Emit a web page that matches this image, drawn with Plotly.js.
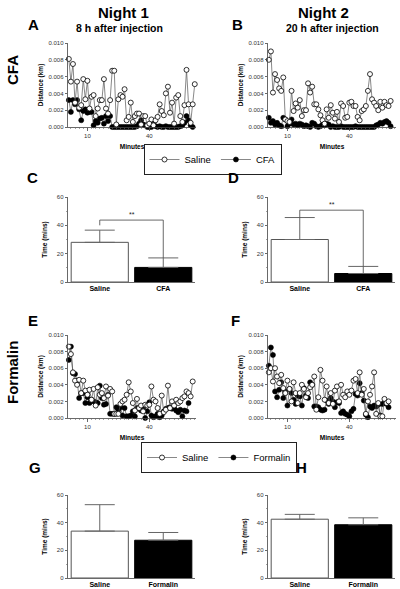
<!DOCTYPE html>
<html><head><meta charset="utf-8">
<script src="https://cdn.plot.ly/plotly-3.0.1.min.js"></script>
<style>html,body{margin:0;padding:0;background:#fff}#chart{width:400px;height:589px}</style>
</head><body><div id="chart"></div>
<script>
// ---- DATA ----
const minutes = [1,2,3,4,5,6,7,8,9,10,11,12,13,14,15,16,17,18,19,20,21,22,23,24,25,26,27,28,29,30,31,32,33,34,35,36,37,38,39,40,41,42,43,44,45,46,47,48,49,50,51,52,53,54,55,56,57,58,59,60,61,62];

const cfaNight1Saline = [0.0081,0.0054,0.0075,0.0029,0.0054,0.0023,0.0026,0.0057,0.0033,0.0055,0.0022,0.0036,0.0038,0.0013,0.0022,0.0032,0.0032,0.0057,0.0022,0.0016,0.0032,0.0067,0.0067,0.0003,0.0033,0.0038,0.0036,0.0045,0.0008,0.0012,0.0029,0.0006,0.0013,0.0016,0.0016,0.0003,0.0013,0.0013,0.0002,0.0004,0.0009,0.0002,0.0008,0.0012,0.0027,0.0019,0.0014,0.0040,0.0048,0.0017,0.0029,0.0004,0.0035,0.0038,0.0013,0.0006,0.0026,0.0068,0.0027,0.0005,0.0027,0.0051];
const cfaNight1CFA = [0.0032,0.0018,0.0032,0.0027,0.0032,0.0021,0.0008,0.0019,0.0021,0.0017,0.0018,0.0018,0.0002,0.0007,0.0005,0.0010,0.0011,0.0004,0.0013,0.0007,0.0013,0,0,0,0,0,0,0,0,0,0,0,0,0.0001,0.0004,0.0008,0.0003,0.0002,0,0,0,0.0004,0.0001,0,0.0001,0,0,0.0001,0,0,0,0,0,0,0.0001,0.0002,0.0005,0.0013,0.0008,0.0002,0];
const cfaNight2Saline = [0.0080,0.0090,0.0041,0.0063,0.0056,0.0046,0.0043,0.0059,0.0009,0.0007,0.0006,0.0043,0.0019,0.0028,0.0023,0.0032,0.0013,0.0020,0.0020,0.0052,0.0041,0.0048,0.0027,0.0027,0.0021,0.0014,0.0008,0.0004,0.0021,0.0011,0.0026,0.0017,0.0010,0.0018,0.0006,0.0028,0.0025,0.0011,0.0012,0.0029,0.0030,0.0025,0.0025,0.0012,0.0008,0.0019,0.0021,0.0025,0.0043,0.0063,0.0033,0.0029,0.0025,0.0020,0.0030,0.0023,0.0030,0.0026,0.0025,0.0031];
const cfaNight2CFA = [0.0011,0.0005,0.0007,0.0003,0.0005,0.0002,0.0001,0.0011,0.0009,0.0001,0.0004,0.0009,0.0003,0.0004,0.0002,0.0004,0.0003,0.0001,0.0002,0.0001,0,0.0005,0.0004,0.0001,0,0.0001,0.0003,0.0002,0.0004,0.0003,0,0.0001,0,0,0,0.0001,0,0,0,0,0,0,0.0001,0,0,0,0,0,0,0,0,0,0.0002,0.0003,0.0005,0.0004,0.0006,0.0007,0.0005,0.0001];

const formNight1Saline = [0.0086,0.0077,0.0055,0.0045,0.0040,0.0046,0.0030,0.0045,0.0033,0.0028,0.0034,0.0022,0.0035,0.0015,0.0037,0.0028,0.0030,0.0024,0.0038,0.0027,0.0035,0.0032,0.0005,0.0005,0.0005,0.0017,0.0020,0.0022,0.0028,0.0043,0.0032,0.0018,0.0009,0.0023,0.0012,0.0015,0.0008,0.0016,0.0015,0.0016,0.0038,0.0022,0.0020,0.0012,0.0005,0.0027,0.0007,0.0010,0.0039,0.0012,0.0020,0.0015,0.0022,0.0018,0.0020,0.0024,0.0026,0.0032,0.0030,0.0026,0.0044];
const formNight1Formalin = [0.0070,0.0086,0.0054,0.0053,0.0045,0.0024,0.0030,0.0030,0.0018,0.0025,0.0018,0.0022,0.0020,0.0019,0.0018,0.0039,0.0024,0.0016,0.0017,0.0028,0.0005,0.0005,0.0005,0.0013,0.0010,0.0013,0.0003,0.0012,0.0002,0.0002,0.0003,0.0008,0.0002,0.0012,0.0011,0.0009,0.0012,0.0000,0.0008,0.0019,0.0003,0.0001,0.0002,0.0005,0.0001,0.0003,0.0008,0.0011,0.0012,0.0013,0.0011,0.0012,0.0009,0.0007,0.0010,0.0002,0.0009,0.0008,0.0018];
const formNight2Saline = [0.0055,0.0060,0.0044,0.0060,0.0050,0.0042,0.0052,0.0036,0.0030,0.0045,0.0035,0.0020,0.0043,0.0030,0.0018,0.0030,0.0040,0.0035,0.0025,0.0030,0.0037,0.0040,0.0050,0.0010,0.0025,0.0058,0.0045,0.0022,0.0038,0.0018,0.0030,0.0017,0.0033,0.0038,0.0020,0.0040,0.0028,0.0025,0.0032,0.0028,0.0033,0.0045,0.0047,0.0030,0.0055,0.0028,0.0035,0.0005,0.0020,0.0028,0.0038,0.0055,0.0005,0.0018,0.0002,0.0002,0.0023,0.0018,0.0020];
const formNight2Formalin = [0.0063,0.0085,0.0076,0.0032,0.0025,0.0034,0.0043,0.0024,0.0032,0.0015,0.0035,0.0030,0.0022,0.0017,0.0027,0.0026,0.0015,0.0036,0.0027,0.0024,0.0043,0.0040,0.0014,0.0014,0.0013,0.0010,0.0009,0.0010,0.0021,0.0017,0.0024,0.0020,0.0013,0.0019,0.0018,0.0006,0.0008,0.0005,0.0004,0.0002,0.0008,0.0011,0.0029,0.0027,0.0042,0.0030,0.0021,0.0004,0.0001,0.0014,0.0012,0.0015,0.0014,0.0016,0.0003,0.0017,0.0018,0.0017,0.0013];

const barCatsCFA = ['Saline','CFA'];
const barCatsForm = ['Saline','Formalin'];
const cfaN1Mean = [28, 10.3];   const cfaN1Err = [8.6, 6.7];
const cfaN2Mean = [30, 6];      const cfaN2Err = [15.5, 5];
const formN1Mean = [33.9, 27.3]; const formN1Err = [19.1, 5.6];
const formN2Mean = [42.5, 38.5]; const formN2Err = [3.5, 5];

// ---- HELPERS ----
const W = 400, H = 589;
const dx = (a,b) => [a/W, b/W];
const dy = (t,b) => [1-b/H, 1-t/H];
const FONT = 'Liberation Sans, Arial, sans-serif';
const tickFont = {family: FONT, size: 6, color: '#333'};
const titleFont = {family: FONT, size: 6.5, color: 'black', weight: 700};

function scatterPair(sal, trt, trtName, xa, ya, legendName, showLeg) {
  const common = {mode: 'lines+markers', xaxis: xa, yaxis: ya, cliponaxis: false, line: {color: '#555', width: 0.7}, legend: legendName};
  return [
    Object.assign({}, common, {x: minutes.slice(0, trt.length), y: trt, name: trtName, showlegend: showLeg,
      marker: {symbol: 'circle', size: 5, color: 'black', line: {color: 'black', width: 0.6}}}),
    Object.assign({}, common, {x: minutes.slice(0, sal.length), y: sal, name: 'Saline', showlegend: showLeg,
      marker: {symbol: 'circle', size: 5, color: 'white', line: {color: 'black', width: 0.8}}})
  ];
}
function barTrace(cats, means, errs, xa, ya) {
  return {type: 'bar', x: cats, y: means, xaxis: xa, yaxis: ya, showlegend: false, width: 0.9,
    marker: {color: ['white', 'black'], line: {color: ['#555', 'black'], width: 1}},
    error_y: {type: 'data', symmetric: false, array: errs, arrayminus: [0, 0], color: '#666', thickness: 1, width: 15}};
}

const traces = [].concat(
  scatterPair(cfaNight1Saline, cfaNight1CFA, 'CFA', 'x', 'y', 'legend', false),
  scatterPair(cfaNight2Saline, cfaNight2CFA, 'CFA', 'x2', 'y2', 'legend', true),
  [barTrace(barCatsCFA, cfaN1Mean, cfaN1Err, 'x3', 'y3'), barTrace(barCatsCFA, cfaN2Mean, cfaN2Err, 'x4', 'y4')],
  scatterPair(formNight1Saline, formNight1Formalin, 'Formalin', 'x5', 'y5', 'legend2', false),
  scatterPair(formNight2Saline, formNight2Formalin, 'Formalin', 'x6', 'y6', 'legend2', true),
  [barTrace(barCatsForm, formN1Mean, formN1Err, 'x7', 'y7'), barTrace(barCatsForm, formN2Mean, formN2Err, 'x8', 'y8')]
);

function sx(dom, anchor, showTitle) {
  return {domain: dom, anchor: anchor, range: [0.6, 62.6], tickvals: [10, 40], ticks: 'outside', ticklen: 3, tickwidth: 0.8,
    tickcolor: '#444', showline: true, linecolor: '#444', linewidth: 0.8, showgrid: false, zeroline: false, tickfont: tickFont,
    minor: {ticks: 'outside', ticklen: 1.5, dtick: 2, tickcolor: '#666', tickwidth: 0.6},
    title: showTitle ? {text: 'Minutes', font: titleFont, standoff: 6} : {text: ''}};
}
function sy(dom, anchor) {
  return {domain: dom, anchor: anchor, range: [0, 0.010], dtick: 0.002, tickformat: '.3f', ticks: 'outside', ticklen: 2.5, tickwidth: 0.8,
    tickcolor: '#444', showline: true, linecolor: '#444', linewidth: 0.8, showgrid: false, zeroline: false, tickfont: tickFont,
    title: {text: 'Distance (km)', font: titleFont, standoff: 4}};
}
function bx(dom, anchor) {
  return {domain: dom, anchor: anchor, type: 'category', range: [-0.5, 1.5], showline: true, linecolor: '#444', linewidth: 0.8,
    ticks: '', showgrid: false, zeroline: false, tickfont: {family: FONT, size: 7, color: 'black', weight: 700}};
}
function by(dom, anchor) {
  return {domain: dom, anchor: anchor, range: [0, 60], dtick: 20, ticks: 'outside', ticklen: 2.5, tickwidth: 0.8, tickcolor: '#444',
    showline: true, linecolor: '#444', linewidth: 0.8, showgrid: false, zeroline: false, tickfont: tickFont,
    minor: {ticks: 'outside', ticklen: 1.5, dtick: 10, tickcolor: '#666', tickwidth: 0.6},
    title: {text: 'Time (mins)', font: titleFont, standoff: 8}};
}

function bracket(xa, ya, top, leftBottom, rightBottom) {
  const base = {type: 'line', xref: xa, yref: ya, line: {color: '#444', width: 0.8}};
  return [
    Object.assign({}, base, {x0: 0, x1: 1, y0: top, y1: top}),
    Object.assign({}, base, {x0: 0, x1: 0, y0: top, y1: leftBottom}),
    Object.assign({}, base, {x0: 1, x1: 1, y0: top, y1: rightBottom})
  ];
}

function txt(text, x, y, size, extra) {
  return Object.assign({xref: 'paper', yref: 'paper', x: x/W, y: 1-y/H, xanchor: 'center', yanchor: 'middle', showarrow: false,
    text: text, font: {family: FONT, size: size, color: 'black', weight: 700}}, extra || {});
}

const annotations = [
  txt('Night 1', 123, 13, 15), txt('8 h after injection', 119, 28, 10.5),
  txt('Night 2', 323, 13, 15), txt('20 h after injection', 332, 28, 10.5),
  txt('A', 33, 25, 15), txt('B', 237, 25, 15), txt('C', 32, 178, 15), txt('D', 233, 178, 15),
  txt('E', 33, 320, 15), txt('F', 235, 320, 15), txt('G', 35, 468, 15), txt('H', 301, 468, 15),
  txt('CFA', 12, 70, 15, {textangle: -90}), txt('Formalin', 12, 373, 15, {textangle: -90}),
  {xref: 'x3', yref: 'y3', x: 0.5, y: 43.7, yanchor: 'bottom', showarrow: false, text: '**', font: {family: FONT, size: 7, color: '#222'}},
  {xref: 'x4', yref: 'y4', x: 0.5, y: 50.7, yanchor: 'bottom', showarrow: false, text: '**', font: {family: FONT, size: 7, color: '#222'}}
];

const legendStyle = (x, y) => ({orientation: 'h', x: x, y: y, xanchor: 'center', yanchor: 'top', bgcolor: 'white',
  bordercolor: '#222', borderwidth: 1, font: {family: FONT, size: 9.5, color: 'black'}, itemwidth: 30, traceorder: 'reversed', tracegroupgap: 0});

const layout = {
  width: W, height: H, margin: {l: 0, r: 0, t: 0, b: 0}, paper_bgcolor: 'white', plot_bgcolor: 'white',
  showlegend: true, bargap: 0.1,
  legend: legendStyle(212.5/W, 1-144/H),
  legend2: legendStyle(219/W, 1-442/H),
  xaxis: sx(dx(68, 196), 'y', true),   yaxis: sy(dy(43, 127), 'x'),
  xaxis2: sx(dx(268, 396), 'y2', true), yaxis2: sy(dy(43, 127), 'x2'),
  xaxis3: bx(dx(68, 195), 'y3'),        yaxis3: by(dy(197, 282), 'x3'),
  xaxis4: bx(dx(268, 395), 'y4'),       yaxis4: by(dy(197, 282), 'x4'),
  xaxis5: sx(dx(68, 196), 'y5', true),  yaxis5: sy(dy(335, 418), 'x5'),
  xaxis6: sx(dx(268, 396), 'y6', true), yaxis6: sy(dy(335, 418), 'x6'),
  xaxis7: bx(dx(68, 195), 'y7'),        yaxis7: by(dy(495, 578), 'x7'),
  xaxis8: bx(dx(268, 395), 'y8'),       yaxis8: by(dy(495, 578), 'x8'),
  shapes: [].concat(bracket('x3', 'y3', 43.7, 40, 17), bracket('x4', 'y4', 50.7, 45.5, 11)),
  annotations: annotations
};

Plotly.newPlot('chart', traces, layout, {displayModeBar: false, staticPlot: true});
</script></body></html>
